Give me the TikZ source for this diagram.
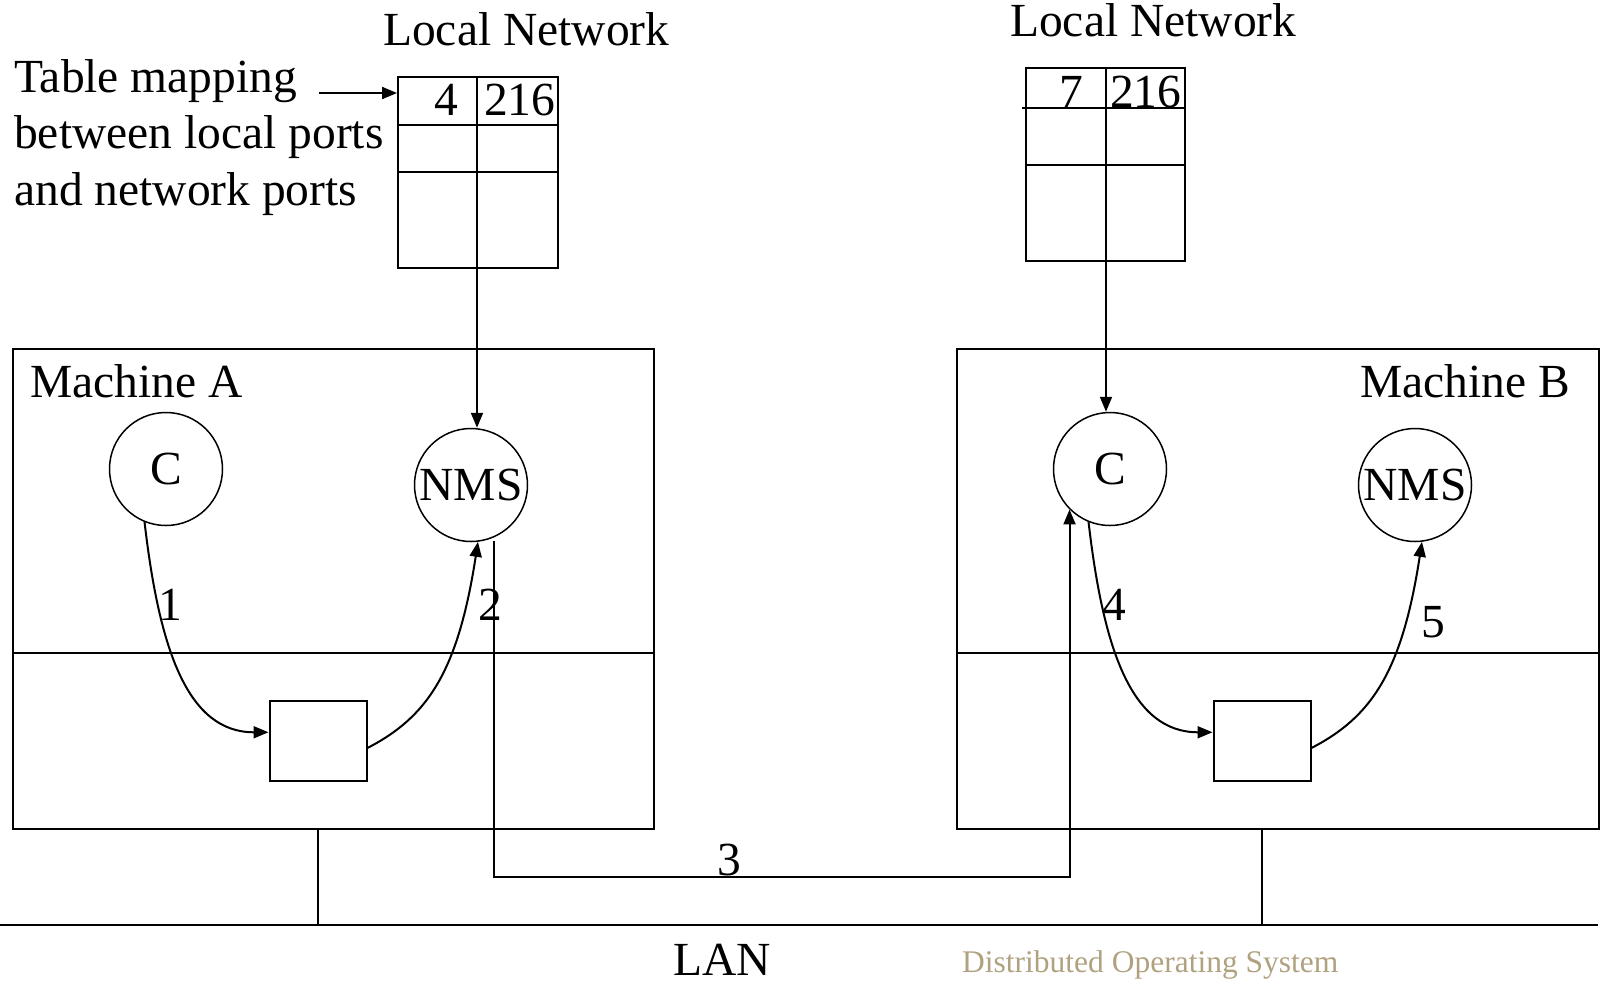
\documentclass[tikz,border=0pt]{standalone}
\usepackage{fontspec}
\setmainfont{Liberation Serif}
\usetikzlibrary{arrows.meta}
\definecolor{dosgray}{RGB}{176,162,128}
\tikzset{
  ln/.style={line width=2pt},
  thin ln/.style={line width=1.3pt},
  arr/.style={line width=2pt,-{Triangle[length=15pt,width=12pt]}},
  proc/.style={draw,line width=1.5pt,circle,minimum size=113pt,inner sep=0pt,font=\fontsize{47.5}{55}\selectfont},
  buf/.style={draw,line width=2pt,rectangle,minimum width=97pt,minimum height=80pt,inner sep=0pt},
  machine/.style={draw,line width=2.2pt,rectangle,inner sep=0pt},
  txt/.style={inner sep=0pt,font=\fontsize{47.5}{55}\selectfont},
  small/.style={inner sep=0pt,font=\fontsize{31.5}{36}\selectfont,text=dosgray}
}
\begin{document}
\begin{tikzpicture}[x=1pt,y=-1pt]
\useasboundingbox (0,0) rectangle (1605,986);
% machines
\node[machine,minimum width=641pt,minimum height=480pt] (mA) at (333.5,589) {};
\node[machine,minimum width=642pt,minimum height=480pt] (mB) at (1278,589) {};
\draw[ln] (mA.west |- 0,653) -- (mA.east |- 0,653);
\draw[ln] (mB.west |- 0,653) -- (mB.east |- 0,653);
\node[txt,anchor=base west] (labA) at (30,397) {Machine A};
\node[txt,anchor=base east] (labB) at (1570,397) {Machine B};
% processes
\node[proc] (cA) at (166,469) {C};
\node[proc] (nmsA) at (471,485) {NMS};
\node[proc] (cB) at (1110,469) {C};
\node[proc] (nmsB) at (1415,485) {NMS};
% buffers
\node[buf] (bA) at (318,741) {};
\node[buf] (bB) at (1262,741) {};
% tables
\node[draw,line width=2pt,rectangle,minimum width=160pt,minimum height=191pt,inner sep=0pt] (tA) at (478,172.5) {};
\draw[ln] (398,125) -- (558,125);
\draw[ln] (398,172) -- (558,172);
\coordinate (tAtop) at (477,77);
\coordinate (tAbot) at (477,268);
\draw[ln] (tAtop) -- (tAbot);
\node[txt,anchor=base east] (v4) at (458,115) {4};
\node[txt,anchor=base west] (v216a) at (484,115) {216};
\node[draw,line width=2pt,rectangle,minimum width=159pt,minimum height=193pt,inner sep=0pt] (tB) at (1105.5,164.5) {};
\draw[ln] (1022,108) -- (1185,108);
\draw[ln] (1026,165) -- (1185,165);
\coordinate (tBtop) at (1106,68);
\coordinate (tBbot) at (1106,261);
\draw[ln] (tBtop) -- (tBbot);
\node[txt,anchor=base east] (v7) at (1083,107) {7};
\node[txt,anchor=base west] (v216b) at (1110,107) {216};
% titles
\node[txt,anchor=base west] (lnA) at (383,45) {Local Network};
\node[txt,anchor=base west] (lnB) at (1010,36) {Local Network};
\node[txt,anchor=base west] (tm1) at (14,92) {Table mapping};
\node[txt,anchor=base west] (tm2) at (14,148.5) {between local ports};
\node[txt,anchor=base west] (tm3) at (14,205) {and network ports};
\coordinate (tmend) at (319,93);
\draw[arr] (tmend) -- (tmend -| tA.west);
% table to processes
\draw[arr] (tAbot) -- (tAbot |- nmsA.north);
\draw[arr] (tBbot) -- (tBbot |- cB.north);
% flows in machine A
\draw[arr] (cA.248) .. controls +(15,130) and +(-80,0) .. (bA.170);
\draw[arr] (bA.-8) .. controls +(60,-31) and +(-20,130) .. (nmsA.-83);
\node[txt,anchor=base] (n1) at (170,620) {1};
\node[txt,anchor=base] (n2) at (490,620) {2};
% flows in machine B
\draw[arr] (cB.248) .. controls +(15,130) and +(-80,0) .. (bB.170);
\draw[arr] (bB.-8) .. controls +(60,-31) and +(-20,130) .. (nmsB.-83);
\node[txt,anchor=base] (n4) at (1114,620) {4};
\node[txt,anchor=base] (n5) at (1433,637) {5};
% network transfer 3
\coordinate (s3) at (494,541);
\draw[arr] (s3) -- (s3 |- 0,877) -| (cB.225);
\node[txt,anchor=base] (n3) at (729,875) {3};
% LAN
\coordinate (lanL) at (0,925);
\coordinate (lanR) at (1598,925);
\draw[ln] (lanL) -- (lanR);
\draw[thin ln] (318,829) -- (318,925);
\draw[thin ln] (1262,829) -- (1262,925);
\node[txt,anchor=base] (lan) at (722,975) {LAN};
\node[small,anchor=base west] (dos) at (962,972) {Distributed Operating System};
\end{tikzpicture}
\end{document}
